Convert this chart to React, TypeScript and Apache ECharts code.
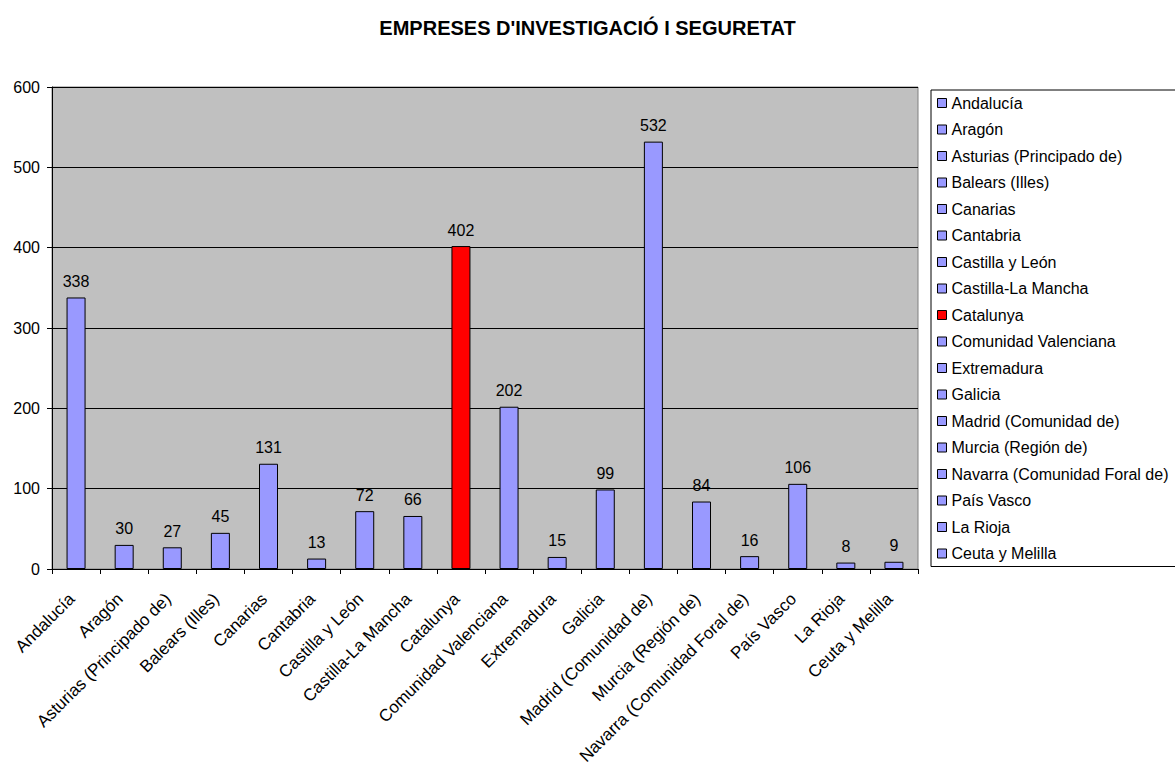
import React, { useEffect, useRef } from "react";
import * as echarts from "echarts";

const TITLE = "EMPRESES D'INVESTIGACIÓ I SEGURETAT";
const categories = [
  "Andalucía",
  "Aragón",
  "Asturias (Principado de)",
  "Balears (Illes)",
  "Canarias",
  "Cantabria",
  "Castilla y León",
  "Castilla-La Mancha",
  "Catalunya",
  "Comunidad Valenciana",
  "Extremadura",
  "Galicia",
  "Madrid (Comunidad de)",
  "Murcia (Región de)",
  "Navarra (Comunidad Foral de)",
  "País Vasco",
  "La Rioja",
  "Ceuta y Melilla",
];
const values = [338, 30, 27, 45, 131, 13, 72, 66, 402, 202, 15, 99, 532, 84, 16, 106, 8, 9];
const highlighted = ["Catalunya"];
const yTicks = [0, 100, 200, 300, 400, 500, 600];

const FONT = "'Liberation Sans', Arial, sans-serif";

export default function App() {
  const ref = useRef<HTMLDivElement>(null);
  useEffect(() => {
    document.body.style.margin = "0";
    const chart = echarts.init(ref.current!, undefined, { renderer: "svg" });
    const series = categories.map((name, i) => ({
      name,
      type: "bar",
      stack: "all",
      barWidth: 19,
      data: categories.map((_, j) => (j === i ? values[i] : null)),
      itemStyle: {
        color: highlighted.includes(name) ? "#FF0000" : "#9999FF",
        borderColor: "#000",
        borderWidth: 1,
      },
      label: {
        show: true,
        position: "top",
        distance: 8,
        fontSize: 16,
        fontFamily: FONT,
        color: "#000",
      },
      emphasis: { disabled: true },
    }));
    chart.setOption({
      animation: false,
      textStyle: { fontFamily: FONT },
      title: {
        text: TITLE,
        left: "center",
        top: 18,
        padding: 0,
        textStyle: { fontSize: 20, fontWeight: "bold", color: "#000", fontFamily: FONT },
      },
      legend: {
        orient: "vertical",
        left: 931,
        top: 90,
        padding: [4, 60, 4, 6],
        itemWidth: 9,
        itemHeight: 9,
        itemGap: 8.5,
        icon: "rect",
        borderColor: "#000",
        borderWidth: 1,
        itemStyle: { borderColor: "#000", borderWidth: 1 },
        textStyle: { fontSize: 16, lineHeight: 18, color: "#000", fontFamily: FONT },
        data: categories,
      },
      grid: {
        left: 52,
        right: 257,
        top: 87,
        bottom: 196,
        containLabel: false,
        outerBoundsMode: "none",
        show: true,
        backgroundColor: "#C0C0C0",
        borderColor: "#808080",
        borderWidth: 1,
      },
      xAxis: {
        type: "category",
        data: categories,
        axisLine: { lineStyle: { color: "#000", width: 1 } },
        axisTick: { show: true, length: 5, lineStyle: { color: "#000" } },
        axisLabel: {
          rotate: 45,
          interval: 0,
          margin: 23,
          padding: [0, 6, 0, 0],
          fontSize: 17,
          color: "#000",
          fontFamily: FONT,
        },
      },
      yAxis: {
        type: "value",
        min: yTicks[0],
        max: yTicks[yTicks.length - 1],
        interval: 100,
        axisLine: { show: true, lineStyle: { color: "#000", width: 1 } },
        axisTick: { show: true, length: 5, lineStyle: { color: "#000" } },
        axisLabel: { fontSize: 16, color: "#000", margin: 12, fontFamily: FONT },
        splitLine: { show: true, lineStyle: { color: "#000", width: 1 } },
      },
      series,
    });
    return () => chart.dispose();
  }, []);
  return <div ref={ref} style={{ width: 1175, height: 765 }} />;
}
